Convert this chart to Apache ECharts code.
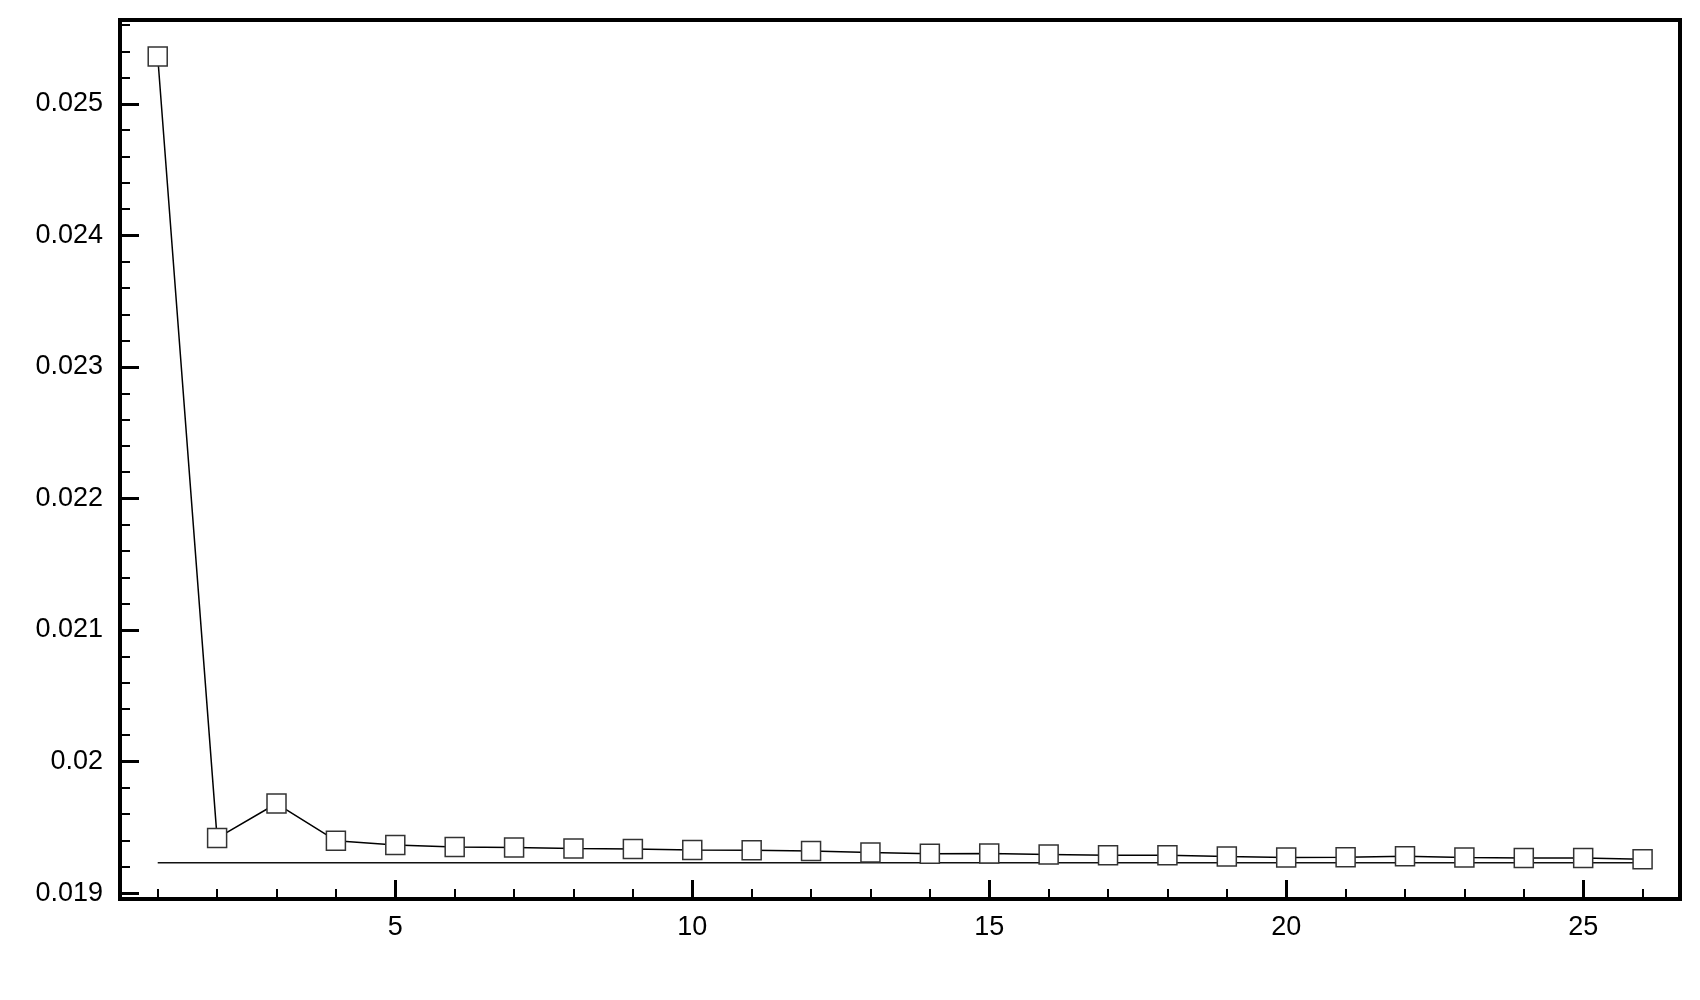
<!DOCTYPE html>
<html>
<head>
<meta charset="utf-8">
<script src="https://cdn.jsdelivr.net/npm/echarts@6/dist/echarts.min.js"></script>
<style>
    html, body { margin: 0; padding: 0; background: #fff; }
    #chart { width: 1700px; height: 1000px; }
</style>
</head>
<body>
<div id="chart"></div>
<script>
    // iterations and residual values
    const iterations = [1, 2, 3, 4, 5, 6, 7, 8, 9, 10, 11, 12, 13, 14, 15, 16, 17, 18, 19, 20, 21, 22, 23, 24, 25, 26]
    const values = [0.02536, 0.019418, 0.019681, 0.019398, 0.019366, 0.01935, 0.019346, 0.019339, 0.019335, 0.019328,
        0.019325, 0.01932, 0.019309, 0.019299, 0.019301, 0.019293, 0.019287, 0.019287, 0.019278, 0.019271,
        0.019272, 0.01928, 0.01927, 0.019266, 0.019266, 0.019257]
    const refValue = 0.01923

    // tick values
    const yMajorTicks = [0.019, 0.02, 0.021, 0.022, 0.023, 0.024, 0.025]
    const yMinorTicks = [0.0192, 0.0194, 0.0196, 0.0198, 0.0202, 0.0204, 0.0206, 0.0208, 0.0212, 0.0214, 0.0216, 0.0218,
        0.0222, 0.0224, 0.0226, 0.0228, 0.0232, 0.0234, 0.0236, 0.0238, 0.0242, 0.0244, 0.0246, 0.0248,
        0.0252, 0.0254, 0.0256]
    const xMajorTicks = [5, 10, 15, 20, 25]
    const xMinorTicks = [1, 2, 3, 4, 6, 7, 8, 9, 11, 12, 13, 14, 16, 17, 18, 19, 21, 22, 23, 24, 26]

    const yMin = 0.018955
    const yMax = 0.025638
    const xMin = 0.365
    const xMax = 26.63

    const labelFont = {
        color: '#000',
        fontSize: 27,
        fontFamily: 'Liberation Sans'
    }

    const chart = echarts.init(document.getElementById('chart'))

    const option = {
        animation: false,
        backgroundColor: '#fff',
        grid: {
            left: 120,
            right: 20,
            top: 20,
            bottom: 101,
            show: true,
            borderColor: '#000',
            borderWidth: 4,
            containLabel: false
        },
        xAxis: [
            {
                type: 'value',
                min: xMin,
                max: xMax,
                position: 'bottom',
                splitLine: { show: false },
                axisLine: { show: false },
                axisTick: {
                    show: true,
                    inside: true,
                    length: 19,
                    customValues: xMajorTicks,
                    lineStyle: { color: '#000', width: 3 }
                },
                axisLabel: {
                    ...labelFont,
                    margin: 15,
                    customValues: xMajorTicks
                }
            },
            {
                type: 'value',
                min: xMin,
                max: xMax,
                position: 'bottom',
                splitLine: { show: false },
                axisLine: { show: false },
                axisTick: {
                    show: true,
                    inside: true,
                    length: 10,
                    customValues: xMinorTicks,
                    lineStyle: { color: '#000', width: 2 }
                },
                axisLabel: { show: false }
            }
        ],
        yAxis: [
            {
                type: 'value',
                min: yMin,
                max: yMax,
                position: 'left',
                splitLine: { show: false },
                axisLine: { show: false },
                axisTick: {
                    show: true,
                    inside: true,
                    length: 19,
                    customValues: yMajorTicks,
                    lineStyle: { color: '#000', width: 3 }
                },
                axisLabel: {
                    ...labelFont,
                    margin: 17,
                    customValues: yMajorTicks
                }
            },
            {
                type: 'value',
                min: yMin,
                max: yMax,
                position: 'left',
                splitLine: { show: false },
                axisLine: { show: false },
                axisTick: {
                    show: true,
                    inside: true,
                    length: 10,
                    customValues: yMinorTicks,
                    lineStyle: { color: '#000', width: 2 }
                },
                axisLabel: { show: false }
            }
        ],
        series: [
            {
                type: 'line',
                xAxisIndex: 0,
                yAxisIndex: 0,
                data: iterations.map((x, i) => [x, values[i]]),
                symbol: 'rect',
                symbolSize: 19,
                showAllSymbol: true,
                lineStyle: { color: '#000', width: 1.5 },
                itemStyle: { color: '#fff', borderColor: '#333', borderWidth: 1.5 },
                emphasis: { disabled: true }
            },
            {
                type: 'line',
                xAxisIndex: 0,
                yAxisIndex: 0,
                z: 3,
                data: [[iterations[0], refValue], [iterations[iterations.length - 1], refValue]],
                symbol: 'none',
                lineStyle: { color: '#111', width: 1.5 },
                emphasis: { disabled: true }
            }
        ]
    }

    chart.setOption(option)
</script>
</body>
</html>
